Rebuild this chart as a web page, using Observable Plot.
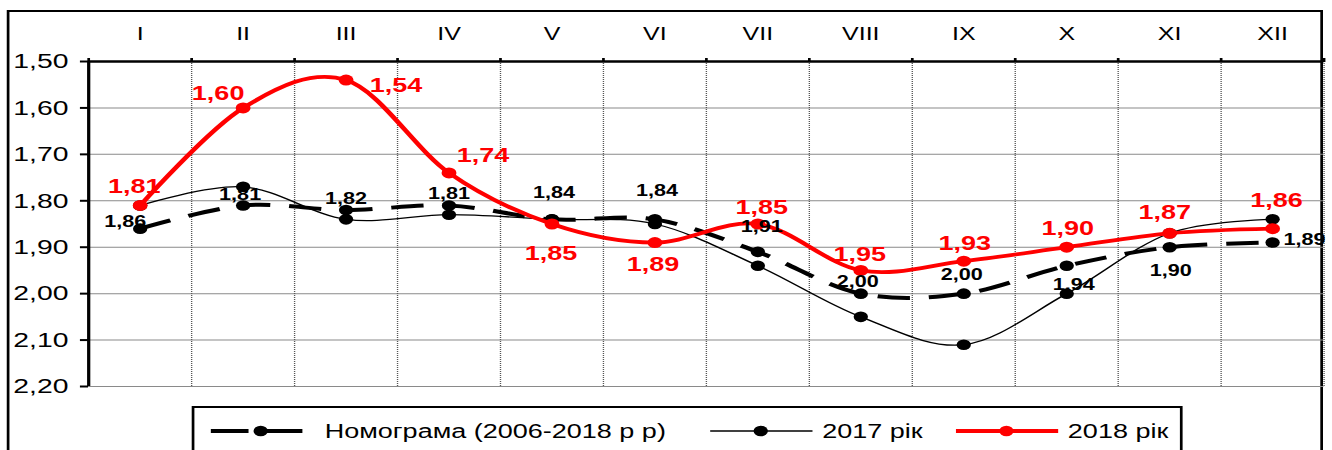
<!DOCTYPE html>
<html><head><meta charset="utf-8">
<script src="https://cdn.jsdelivr.net/npm/d3@7"></script>
<script src="https://cdn.jsdelivr.net/npm/@observablehq/plot@0.6"></script>
<style>
html,body{margin:0;padding:0;background:#fff;overflow:hidden;width:1332px;height:450px}
#w{position:absolute;left:0;top:0;width:987px;height:450px;transform:scaleX(1.35);transform-origin:0 0;font-family:"Liberation Sans",Arial,sans-serif}
#frame{position:absolute;left:5px;top:10px;width:975px;height:500px;border:2px solid #000;box-sizing:border-box}
#chart{position:absolute;left:0;top:0}
#legend{position:absolute;left:141.5px;top:406px;width:734px;height:100px;border:2px solid #000;box-sizing:border-box;background:#fff}
#legend .it{position:absolute;top:0;height:46px;display:flex;align-items:center;font-size:20px;color:#000;white-space:nowrap}
#legend svg{position:absolute;top:13px}
</style></head>
<body><div id="w"><div id="frame"></div><div id="chart"></div><div id="legend"></div></div>
<script>
// ---- data ----
const months = ["I","II","III","IV","V","VI","VII","VIII","IX","X","XI","XII"];
const nomogram = [1.86,1.81,1.82,1.81,1.84,1.84,1.91,2.00,2.00,1.94,1.90,1.89];
const year2017 = [1.81,1.77,1.84,1.83,1.84,1.85,1.94,2.05,2.11,2.00,1.87,1.84];
const year2018 = [1.81,1.60,1.54,1.74,1.85,1.89,1.85,1.95,1.93,1.90,1.87,1.86];
const yTicks = [1.5,1.6,1.7,1.8,1.9,2.0,2.1,2.2];
const seriesNames = ["Номограма (2006-2018 р р)","2017 рік","2018 рік"];

// label placement (offset from the point, screen px)
const nomLabelOff = [[-15,-7],[-3,-11],[0,-11],[0,-12],[2,-26],[2,-28],[4,-25],[-3,-12],[-2,-19],[7,19],[1,24],[32,-3]];
const redLabelOff = [[-6,-19],[-25,-14],[50,6],[34,-17],[-1,30],[-2,22],[4,-16],[-1,-16],[1,-18],[1,-19],[-5,-21],[4,-28]];

const SX = 1.35;
const fmt = v => d3.format(".2f")(v).replace(".", ",");
const idx = months.map((m, i) => i + 1);
const bounds = d3.range(0.5, 13, 1);
const rows = months.map((m, i) => ({m: i + 1, nom: nomogram[i], y17: year2017[i], y18: year2018[i]}));

const nomLabels = rows.map((r, i) => Plot.text([r], {x: "m", y: "nom", text: d => fmt(d.nom), dx: nomLabelOff[i][0] / SX, dy: nomLabelOff[i][1], fontSize: 16, fontWeight: "bold", fill: "#000"}));
const redLabels = rows.map((r, i) => Plot.text([r], {x: "m", y: "y18", text: d => fmt(d.y18), dx: redLabelOff[i][0] / SX, dy: redLabelOff[i][1], fontSize: 20, fontWeight: "bold", fill: "#ff0000"}));

const chart = Plot.plot({
  width: 987, height: 400,
  marginLeft: 65.2, marginRight: 6.7, marginTop: 61, marginBottom: 14,
  style: {fontFamily: "Liberation Sans, Arial, sans-serif", background: "transparent"},
  x: {type: "linear", domain: [0.5, 12.5], label: null},
  y: {type: "linear", domain: [2.2, 1.5], label: null},
  marks: [
    Plot.gridY(yTicks.slice(1), {stroke: "#8a8a8a", strokeOpacity: 1, strokeWidth: 1}),
    Plot.gridX(bounds.slice(1), {stroke: "#555", strokeOpacity: 1, strokeWidth: 1, strokeDasharray: "1,1"}),
    Plot.ruleY([1.5], {stroke: "#000", strokeWidth: 2.5}),
    Plot.ruleX([0.5], {y1: 1.5, y2: 2.2, stroke: "#000", strokeWidth: 2.4}),
    Plot.axisY(yTicks, {anchor: "left", tickSize: 6, tickPadding: 9, strokeWidth: 2, tickFormat: fmt, fontSize: 21}),
    Plot.axisX(idx, {anchor: "top", tickSize: 0, tickPadding: 22, tickFormat: i => months[i - 1], fontSize: 18.5}),
    Plot.axisX(bounds, {anchor: "top", tickSize: 4, strokeWidth: 2, tickFormat: () => ""}),
    Plot.line(rows, {x: "m", y: "nom", curve: "cardinal", stroke: "#000", strokeWidth: 4, strokeDasharray: "24,14", strokeLinecap: "butt"}),
    Plot.dot(rows, {x: "m", y: "nom", r: 5.3, fill: "#000"}),
    Plot.line(rows, {x: "m", y: "y17", curve: "cardinal", stroke: "#000", strokeWidth: 1.3}),
    Plot.dot(rows, {x: "m", y: "y17", r: 5.3, fill: "#000"}),
    Plot.line(rows, {x: "m", y: "y18", curve: "cardinal", stroke: "#ff0000", strokeWidth: 3.8}),
    Plot.dot(rows, {x: "m", y: "y18", r: 5.5, fill: "#ff0000"}),
    ...nomLabels,
    ...redLabels
  ]
});
document.getElementById("chart").appendChild(chart);

// ---- legend ----
const legend = document.getElementById("legend");
const items = [
  {name: seriesNames[0], sw: 12.5, dot: 49.6, tx: 97, color: "#000", width: 4, dash: true},
  {name: seriesNames[1], sw: 382.5, dot: 420, tx: 465.5, color: "#000", width: 1.3, dash: false},
  {name: seriesNames[2], sw: 564.5, dot: 602, tx: 647.5, color: "#ff0000", width: 3.8, dash: false}
];
for (const it of items) {
  const w = 76;
  const cx = it.dot - it.sw;
  const svg = d3.create("svg").attr("width", w).attr("height", 20).style("left", it.sw + "px");
  if (it.dash) {
    svg.append("line").attr("x1", 0).attr("x2", cx - 9).attr("y1", 10).attr("y2", 10).attr("stroke", it.color).attr("stroke-width", it.width);
    svg.append("line").attr("x1", cx).attr("x2", w - 8).attr("y1", 10).attr("y2", 10).attr("stroke", it.color).attr("stroke-width", it.width);
  } else {
    svg.append("line").attr("x1", 0).attr("x2", w).attr("y1", 10).attr("y2", 10).attr("stroke", it.color).attr("stroke-width", it.width);
  }
  svg.append("circle").attr("cx", cx).attr("cy", 10).attr("r", 5.3).attr("fill", it.color);
  legend.appendChild(svg.node());
  const t = document.createElement("div");
  t.className = "it";
  t.style.left = it.tx + "px";
  t.textContent = it.name;
  legend.appendChild(t);
}
</script>
</body></html>
